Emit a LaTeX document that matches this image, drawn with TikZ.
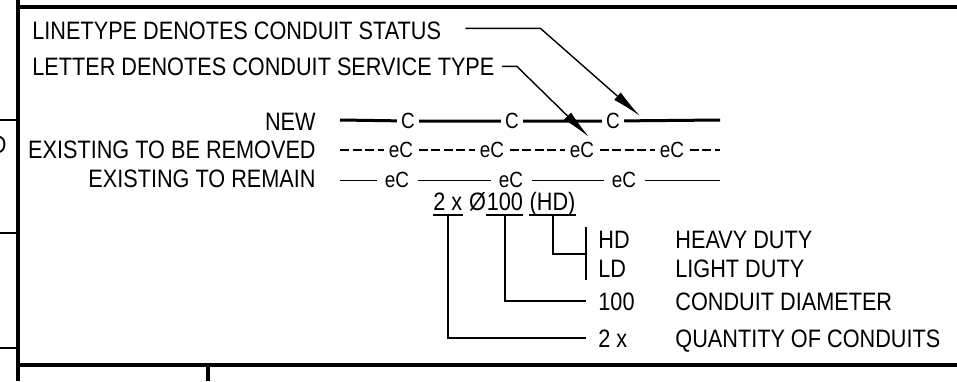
\documentclass[tikz,border=0pt]{standalone}
\usepackage{fontspec}
\setmainfont{Liberation Sans}[FakeStretch=0.86]
\usetikzlibrary{arrows.meta,positioning,calc}

\begin{document}
\begin{tikzpicture}[x=0.5pt,y=-0.5pt,
  every node/.style={inner sep=0pt,font=\fontsize{12.6}{15}\selectfont},
  frame/.style={line width=1.6pt},
  stub/.style={line width=1pt},
  leader/.style={line width=0.7pt,-{Latex[length=15pt,width=5pt]}},
  tag/.style={font=\fontsize{11}{13}\selectfont,inner xsep=#1},
  tag/.default=2.5pt,
  newrun/.style={line width=1.5pt},
  removedrun/.style={line width=1.3pt,dash pattern=on 4.5pt off 1.8pt},
  remainrun/.style={line width=0.5pt},
  bracket/.style={line width=1pt},
  key/.style={anchor=base west,inner xsep=6pt},
  desc/.style={anchor=base west}]
\useasboundingbox (0,0) rectangle (957,381);

% sheet frame
\draw[frame] (18,0) -- (18,381);
\draw[frame] (18,7) -- (957,7);
\draw[frame] (18,365) -- (957,365);
\draw[frame] (208,365) -- (208,381);
\draw[stub] (0,120) -- (18,120);
\draw[stub] (0,233) -- (18,233);
\draw[stub] (0,348) -- (18,348);
\node[anchor=base east] (cut) at (7,153) {D};

% headings
\node[anchor=base west] (status) at (32,39) {LINETYPE DENOTES CONDUIT STATUS};
\node[anchor=base west] (type) at (32,75) {LETTER DENOTES CONDUIT SERVICE TYPE};

% line types
\node[anchor=base east] (new) at (316,130) {NEW};
\node[anchor=base east] (removed) at (316,158) {EXISTING TO BE REMOVED};
\node[anchor=base east] (remain) at (316,187) {EXISTING TO REMAIN};

\coordinate (newL) at (340,120);
\coordinate (newR) at (720,120);
\node[tag=2pt] (c1) at (408,121) {C};
\node[tag=2pt] (c2) at (512,121) {C};
\node[tag=2pt] (c3) at (613,121) {C};
\draw[newrun] (newL) -- (c1) -- (c2) -- (c3) -- (newR);

\coordinate (remL) at (340,150);
\coordinate (remR) at (720,150);
\node[tag] (e1) at (401,150) {eC};
\node[tag] (e2) at (492,150) {eC};
\node[tag] (e3) at (582,150) {eC};
\node[tag] (e4) at (672,150) {eC};
\draw[removedrun] (remL) -- (e1) -- (e2) -- (e3) -- (e4) -- (remR);

\coordinate (staL) at (340,180);
\coordinate (staR) at (720,180);
\node[tag=4pt] (s1) at (397,180) {eC};
\node[tag=4pt] (s2) at (511,180) {eC};
\node[tag=4pt] (s3) at (624,180) {eC};
\draw[remainrun] (staL) -- (s1) -- (s2) -- (s3) -- (staR);

% leaders
\coordinate (statustip) at (640,116);
\coordinate (typetip) at (589,137);
\draw[leader] ([xshift=12pt,yshift=1pt]status.east) -- ++(75,0) -- (statustip);
\draw[leader] ([xshift=3.5pt]type.east) -- ++(15,0) -- (typetip);

% conduit callout
\node[anchor=base west] (qty) at (433,210) {2 x};
\node[base right=3pt of qty] (phi) {Ø};
\node[base right=0pt of phi] (dia) {100};
\node[base right=3pt of dia] (duty) {(HD)};
\foreach \part in {qty,dia,duty}
  \draw[bracket] ([yshift=-2.5pt]\part.base west) -- ([yshift=-2.5pt]\part.base east);

\node[key] (hdkey) at (586,248) {HD};
\node[key] (ldkey) at (586,277) {LD};
\node[key] (diakey) at (586,310) {100};
\node[key] (qtykey) at (586,347) {2 x};
\node[desc] (hddesc) at (675,248) {HEAVY DUTY};
\node[desc] (lddesc) at (675,277) {LIGHT DUTY};
\node[desc] (diadesc) at (675,310) {CONDUIT DIAMETER};
\node[desc] (qtydesc) at (675,347) {QUANTITY OF CONDUITS};

\draw[bracket] ([yshift=6pt]hdkey.west) -- ([yshift=-6pt]ldkey.west);
\draw[bracket] ([yshift=-2.5pt]duty.base) |- ($(hdkey.west)!0.5!(ldkey.west)$);
\draw[bracket] ([yshift=-2.5pt]dia.base) |- (diakey.west);
\draw[bracket] ([yshift=-2.5pt]qty.base) |- (qtykey.west);

\end{tikzpicture}
\end{document}
